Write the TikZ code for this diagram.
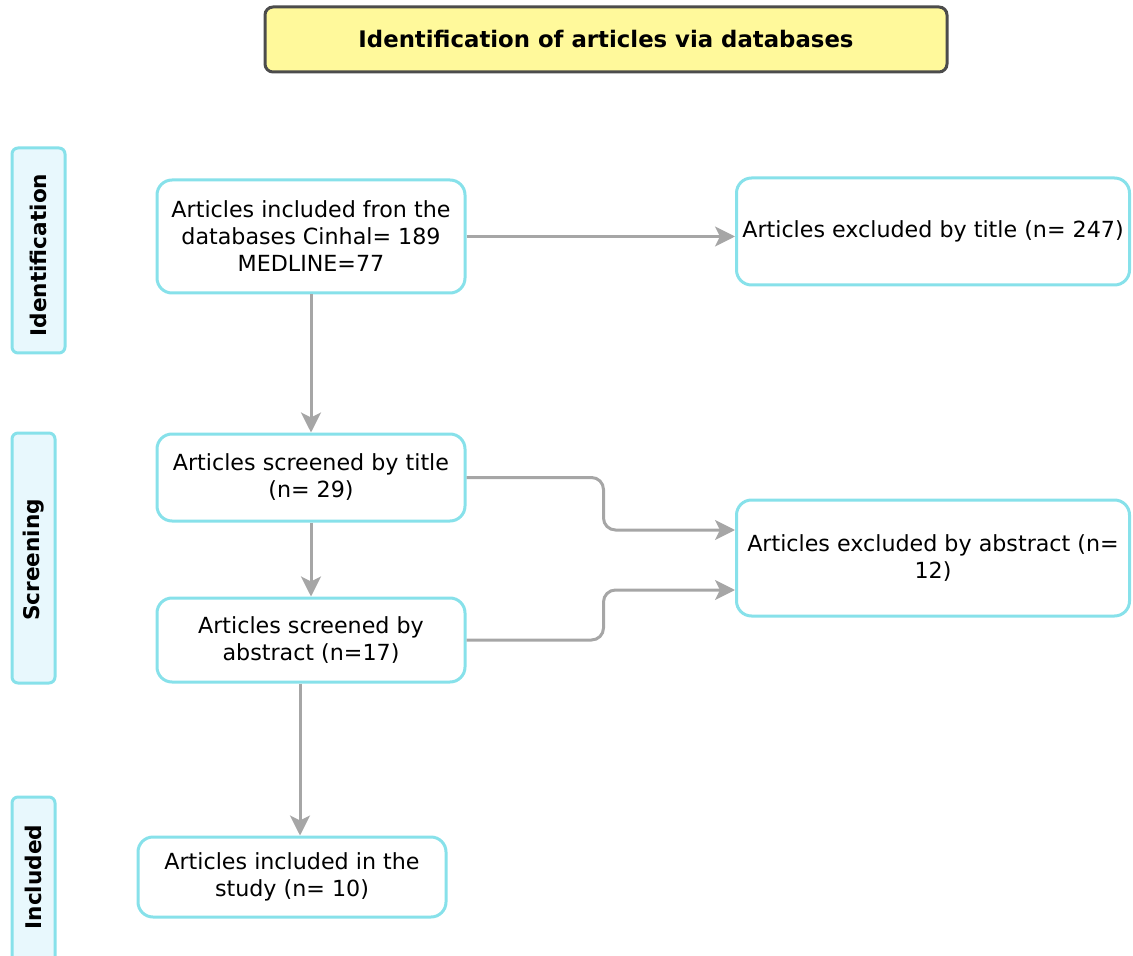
\documentclass[tikz,border=0pt]{standalone}
\usepackage{fontspec}
\setmainfont{DejaVu Sans}
\usetikzlibrary{arrows.meta, positioning}

\definecolor{borde}{HTML}{87E1EA}
\definecolor{fondofase}{HTML}{E8F8FD}
\definecolor{amarillo}{HTML}{FFF99B}
\definecolor{gris}{HTML}{A6A6A6}

\tikzset{
	caja/.style={draw=borde, line width=1.5pt, fill=white, rounded corners=7.5pt, align=center,
		minimum width=154pt, inner sep=2pt, font=\fontsize{11.1}{13.5}\selectfont},
	fase/.style={draw=borde, line width=1.5pt, fill=fondofase, rounded corners=3pt,
		minimum width=21.5pt, inner sep=0pt},
	rotulo/.style={rotate=90, font=\bfseries\fontsize{10.8}{12}\selectfont},
	flecha/.style={draw=gris, line width=1.5pt, -{Stealth[length=10pt, width=10pt, inset=2.5pt]}}
}

\begin{document}
\begin{tikzpicture}[x=0.5pt, y=-0.5pt]
			
			\useasboundingbox (0,0) rectangle (1133,956);
			
			% Titulo
			\node[draw=black!70, line width=1.5pt, fill=amarillo, rounded corners=4pt,
				minimum width=341pt, minimum height=32.5pt, font=\bfseries\fontsize{11.4}{13}\selectfont]
				(titulo) at (606,39.5) {Identification of articles via databases};
			
			% Fases
			\node[fase, minimum width=26.5pt, minimum height=102.5pt] (fident) at (38.5,250.5) {};
			\node[fase, minimum height=125pt] (fcrib) at (33.5,558) {};
			\node[fase, minimum height=89pt] (fincl) at (33.5,886) {};
			\node[rotulo] at (38.5,255) {Identification};
			\node[rotulo] at (33.5,560) {Screening};
			\node[rotulo] at (33.5,877) {Included};
			
			% Cajas
			\node[caja, minimum height=56.5pt] (incdb) at (311,236.5) {Articles included fron the\\databases Cinhal= 189\\MEDLINE=77};
			\node[caja, minimum width=196.5pt, minimum height=53.5pt] (extit) at (933,231.5) {Articles excluded by title (n= 247)};
			\node[caja, minimum height=43.5pt] (crtit) at (311,477.5) {Articles screened by title\\(n= 29)};
			\node[caja, minimum width=196.5pt, minimum height=58pt] (exabs) at (933,558) {Articles excluded by abstract (n=\\12)};
			\node[caja, minimum height=42pt] (crabs) at (311,640) {Articles screened by\\abstract (n=17)};
			\node[caja, minimum height=40pt] (incest) at (292,877) {Articles included in the\\study (n= 10)};
			
			% Flechas
			\draw[flecha] (incdb.east) -- (incdb.east -| extit.west);
			\draw[flecha] (incdb.south) -- (crtit.north);
			\draw[flecha] (crtit.south) -- (crabs.north);
			\draw[flecha, rounded corners=6pt] (crtit.east) -- ++(137,0) |- ([yshift=14pt]exabs.west);
			\draw[flecha, rounded corners=6pt] (crabs.east) -- ++(137,0) |- ([yshift=-16pt]exabs.west);
			\draw[flecha] ([xshift=-5.5pt]crabs.south) -- ([xshift=4pt]incest.north);
			
\end{tikzpicture}
\end{document}
